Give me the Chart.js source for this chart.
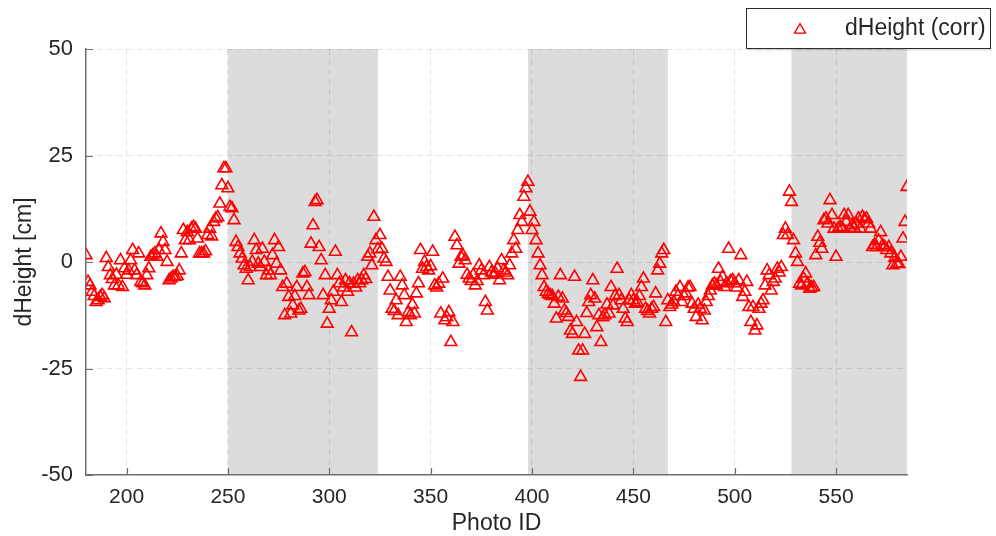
<!DOCTYPE html>
<html>
<head>
<meta charset="utf-8">
<script src="https://cdn.jsdelivr.net/npm/chart.js@4/dist/chart.umd.min.js"></script>
<style>
  html, body { margin: 0; padding: 0; background: #ffffff; }
  #wrap { width: 996px; height: 536px; position: relative; }
</style>
</head>
<body>
<div id="wrap"><canvas id="c" width="996" height="536"></canvas></div>
<script>
// ---- data ----
const photoIdStart = 180;          // first Photo ID; one value per consecutive ID
const dHeight = [
  1.6,-4.7,-5.5,-7,-8,-9.4,-9,-8.2,-7.8,-8.5,
  0.9,-1.2,-3.1,-4,-5.5,-3,-5.5,0.4,-5.9,-1.5,
  -3,-2,0.4,2.8,-2,-3.1,2,-4.7,-5,-5.5,
  -3.1,-1.5,1.2,1.6,2,1.2,2.8,6.7,4.7,2.8,
  0,-4.3,-3.9,-3.5,-3.5,-3.3,-2,2,7.5,5.1,
  7,5.1,7.8,8.2,7.8,5.5,2,2,2,2.5,
  6.3,7.8,6,9.4,10.2,10.5,13.7,18,22,22,
  17.3,12.9,12.6,9.8,4.7,3.5,2,0.8,-0.8,-1.6,
  -4.3,-1.2,0,5.1,2.8,-0.4,-1.2,3.1,0,-3.1,
  -2,-3.1,1.6,5.1,-0.4,3.5,-2,-5.9,-12.5,-5.1,
  -8.2,-12.1,-10.2,-8,-5.9,-11.4,-11,-2.7,-2.4,-5.9,
  -7.8,4.3,8.6,14.1,14.5,3.5,0.4,-7.8,-3.1,-14.5,
  -11,-9,-7,2.4,-3.1,-5,-9.4,-6,-4.3,-7,
  -5,-16.5,-5.1,-6,-4.3,-5,-4.3,-3.1,-4,1.2,
  2,-0.8,10.6,5.1,3,6.3,3.1,0.8,0,-3.5,
  -6.7,-11,-11.5,-9,-12.5,-3.5,-5.5,-7.8,-14.1,-11.8,
  -12.5,-10,-12.1,-7.4,-5,2.8,-1.6,0,-1.2,-2,
  -1,2.4,-5.5,-6,-5.1,-12.1,-3.9,-13.7,-13,-11.8,
  -18.8,-14.1,5.9,3.9,-0.4,1.2,1.5,0.4,-3,-3.9,
  -4.5,-3.1,-5.5,-4.5,-0.8,-2,-3.1,-9.4,-11.4,-1.2,
  -2.5,-3,-2.7,-1.5,-4.3,0.4,-2,-2.5,-3.1,-0.8,
  2,5.1,3.1,7.5,11,9.4,15.3,17.3,18.8,11.8,
  7.5,9.4,5.1,2,-0.8,-3.1,-5.9,-7,-7.5,-7.8,
  -8,-9.8,-13.3,-8.2,-3.1,-8.6,-11.4,-12,-12.9,-16.1,
  -16.9,-3.5,-14.1,-20.8,-27,-20.8,-16.9,-12,-9.4,-7.8,
  -4.3,-8.6,-15.3,-12.5,-18.8,-13,-12.5,-10,-12.1,-5.9,
  -10.2,-8,-1.6,-7.8,-9,-11,-13.3,-14.1,-9,-7.8,
  -9,-9.8,-9.5,-8,-5.9,-3.9,-11,-11.5,-12.1,-11,
  -10.6,-7.4,-2,-0.4,2,2.8,-14.1,-9,-10.6,-10,
  -9.4,-7,-8,-5.9,-9.4,-8,-7.4,-6,-5.9,-9.8,
  -11,-12.9,-10,-11,-13.7,-11.4,-9.4,-8,-6.7,-5.5,
  -5.1,-5.5,-1.6,-4.7,-3.5,-5.9,-5,3.1,-4.5,-4.3,
  -5,-6,-4.3,1.6,-8.2,-7,-4.7,-10.6,-14.1,-10.6,
  -16.1,-14.9,-11,-9.8,-9,-5.5,-2,-3.1,-6.7,-4.7,
  -3.9,-1.6,-2.5,-1.2,6.3,7.8,6.3,16.5,14.1,5.1,
  2,0,-5.1,-5.5,-3.9,-2.7,-5,-6.3,-6,-5.9,
  1.6,5.9,4.5,3.1,9.8,10.2,9,14.5,11,7.8,
  1.2,7.8,8.2,8,11,9.4,11,7.8,8.6,8,
  9,10.2,7.8,10.6,10,10.2,9,7.8,3.5,4,
  3.5,5,7,3.9,3.5,2.8,3.5,2,-0.8,1,
  -0.4,-0.5,1.2,5.5,9.4,17.6
];
const shadeStart = [250, 398, 528];
const shadeEnd   = [324, 467, 585];
const xTicks = [200, 250, 300, 350, 400, 450, 500, 550];
const yTicks = [-50, -25, 0, 25, 50];
const xRange = [180, 585];
const yRange = [-50, 50];
const seriesName = 'dHeight (corr)';
const xTitle = 'Photo ID';
const yTitle = 'dHeight [cm]';

// ---- build points ----
const points = dHeight.map((v, i) => ({ x: photoIdStart + i, y: v }));

const FONT = '"Liberation Sans", Arial, Helvetica, sans-serif';
const TXT = '#262626';
const AXIS = '#6e6e6e';

function triangle(ctx, x, y, r) {
  const side = r * Math.sqrt(3);
  const h = side * Math.sqrt(3) / 2;
  ctx.beginPath();
  ctx.moveTo(x - side / 2, y + h / 3);
  ctx.lineTo(x + side / 2, y + h / 3);
  ctx.lineTo(x, y - 2 * h / 3);
  ctx.closePath();
}

const shadePlugin = {
  id: 'shade',
  beforeDraw(chart) {
    const { ctx, chartArea: a, scales: { x } } = chart;
    ctx.save();
    ctx.fillStyle = '#dcdcdc';
    for (let i = 0; i < shadeStart.length; i++) {
      const x0 = x.getPixelForValue(shadeStart[i]);
      const x1 = x.getPixelForValue(shadeEnd[i]);
      ctx.fillRect(x0, a.top, x1 - x0, a.bottom - a.top);
    }
    ctx.restore();
  },
  afterDatasetsDraw(chart) {
    const { ctx, chartArea: a, scales: { x, y } } = chart;
    ctx.save();
    ctx.strokeStyle = AXIS;
    ctx.lineWidth = 1.2;
    ctx.beginPath();
    xTicks.forEach(v => {
      const px = Math.round(x.getPixelForValue(v)) + 0.5;
      ctx.moveTo(px, a.bottom); ctx.lineTo(px, a.bottom - 7);
    });
    yTicks.forEach(v => {
      const py = Math.round(y.getPixelForValue(v)) + 0.5;
      ctx.moveTo(a.left, py); ctx.lineTo(a.left + 7, py);
    });
    ctx.stroke();
    ctx.restore();
  },
  afterDraw(chart) {
    const { ctx } = chart;
    ctx.save();
    // legend box
    const bx = 746.5, by = 8.5, bw = 244, bh = 40;
    ctx.fillStyle = 'rgba(0,0,0,0.12)';
    ctx.fillRect(bx + 1, by + bh, bw, 2);
    ctx.fillStyle = '#ffffff';
    ctx.fillRect(bx, by, bw, bh);
    ctx.strokeStyle = '#2b2b2b';
    ctx.lineWidth = 1;
    ctx.strokeRect(bx, by, bw, bh);
    ctx.strokeStyle = '#ff0000';
    ctx.lineWidth = 1.4;
    triangle(ctx, 800, 30, 6.3);
    ctx.stroke();
    ctx.fillStyle = TXT;
    ctx.font = '23px ' + FONT;
    ctx.textBaseline = 'middle';
    ctx.textAlign = 'left';
    ctx.fillText(seriesName, 845, 29);
    ctx.restore();
  }
};

new Chart(document.getElementById('c'), {
  type: 'scatter',
  data: {
    datasets: [{
      label: seriesName,
      data: points,
      pointStyle: 'triangle',
      pointRadius: 6.8,
      pointHoverRadius: 6.8,
      borderColor: '#ff0000',
      backgroundColor: 'rgba(0,0,0,0)',
      borderWidth: 1.6
    }]
  },
  options: {
    responsive: false,
    animation: false,
    events: [],
    layout: { padding: { top: 49, right: 89, left: 0, bottom: 0 } },
    plugins: { legend: { display: false }, tooltip: { enabled: false } },
    scales: {
      x: {
        type: 'linear',
        min: xRange[0], max: xRange[1],
        afterBuildTicks(s) { s.ticks = xTicks.map(v => ({ value: v })); },
        afterFit(s) { s.height = 61; },
        grid: { color: 'rgba(0,0,0,0.10)', lineWidth: 1, drawTicks: false },
        border: { display: true, color: AXIS, width: 1.5, dash: [6, 4] },
        ticks: { color: TXT, font: { family: FONT, size: 21 }, padding: 10, maxRotation: 0 },
        title: { display: true, text: xTitle, color: TXT, font: { family: FONT, size: 23, lineHeight: 1.1 }, padding: { top: 0, bottom: 0 } }
      },
      y: {
        min: yRange[0], max: yRange[1],
        afterBuildTicks(s) { s.ticks = yTicks.map(v => ({ value: v })); },
        afterFit(s) { s.width = 86; },
        grid: { color: (c) => (c.tick && c.tick.value === -50) ? 'rgba(0,0,0,0)' : 'rgba(0,0,0,0.10)', lineWidth: 1, drawTicks: false },
        border: { display: true, color: AXIS, width: 1.5, dash: [6, 4] },
        ticks: { color: TXT, font: { family: FONT, size: 22 }, padding: 13 },
        title: { display: true, text: yTitle, color: TXT, font: { family: FONT, size: 23 }, padding: { top: 11, bottom: 0 } }
      }
    }
  },
  plugins: [shadePlugin]
});
</script>
</body>
</html>
